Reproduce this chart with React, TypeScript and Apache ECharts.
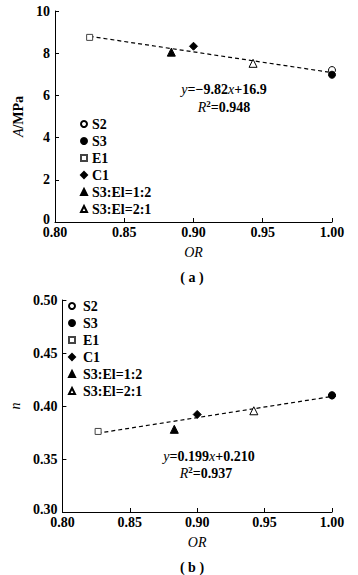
import React, { useEffect, useRef } from "react";
import * as echarts from "echarts";

const categories = ["S2", "S3", "E1", "C1", "S3:El=1:2", "S3:El=2:1"];
const orA = [1.0, 1.0, 0.825, 0.9, 0.884, 0.943];
const aValues = [7.2, 6.98, 8.75, 8.33, 8.05, 7.52];
const orB = [1.0, 1.0, 0.8265, 0.9, 0.883, 0.942];
const nValues = [0.41, 0.41, 0.376, 0.392, 0.378, 0.3955];
const fitA = [[0.825, 8.8], [1.0, 7.08]];
const fitB = [[0.826, 0.3743], [1.0, 0.409]];

const symbols = ["circle", "circle", "rect", "diamond", "triangle", "triangle"];
const sizes = [7, 7, 6, 8, 8, 8];
const fills = ["#fff", "#000", "#fff", "#000", "#000", "#fff"];
const borders = ["#000", "#000", "#444", "#000", "#000", "#000"];

const ff = '"Liberation Serif", "Times New Roman", serif';
const FS = 14;

function xAxis(gi: number) {
  return {
    type: "value",
    gridIndex: gi,
    min: 0.8,
    max: 1.0,
    interval: 0.05,
    name: "OR",
    nameLocation: "middle",
    nameGap: 23,
    nameTextStyle: { fontFamily: ff, fontStyle: "italic", fontSize: FS, color: "#000" },
    axisLine: { lineStyle: { color: "#000", width: 1 } },
    axisTick: { inside: true, length: 4, lineStyle: { color: "#000" } },
    axisLabel: {
      fontFamily: ff,
      fontWeight: "bold",
      fontSize: FS,
      lineHeight: 12,
      color: "#000",
      margin: 4,
      formatter: (v: number) => v.toFixed(2),
    },
    splitLine: { show: false },
  };
}

function series(gi: number, xs: number[], ys: number[], fit: number[][]) {
  const out: any[] = [
    {
      type: "line",
      name: "fit" + gi,
      xAxisIndex: gi,
      yAxisIndex: gi,
      data: fit,
      symbol: "none",
      lineStyle: { color: "#000", width: 1.2, type: [4, 3] },
      z: 1,
    },
  ];
  categories.forEach((name, i) => {
    out.push({
      type: "scatter",
      name,
      xAxisIndex: gi,
      yAxisIndex: gi,
      data: [[xs[i], ys[i]]],
      symbol: symbols[i],
      symbolSize: sizes[i],
      itemStyle: { color: fills[i], borderColor: borders[i], borderWidth: 1, opacity: 1 },
      z: 2 + i,
    });
  });
  return out;
}

function legend(left: number, top: number, pad: number) {
  return {
    orient: "vertical",
    left,
    top,
    data: categories,
    selectedMode: false,
    itemWidth: 6,
    itemHeight: 6,
    itemGap: 3,
    padding: 0,
    textStyle: {
      fontFamily: ff,
      fontWeight: "bold",
      fontSize: FS,
      color: "#000",
      lineHeight: 14,
      padding: [0, 0, 0, pad],
    },
  };
}

const rich = {
  i: { fontFamily: ff, fontStyle: "italic", fontSize: FS, fill: "#000" },
  b: { fontFamily: ff, fontWeight: "bold", fontSize: FS, fill: "#000" },
  sup: { fontFamily: ff, fontWeight: "bold", fontSize: 9, fill: "#000", verticalAlign: "top", padding: [0, 0, 6, 0] },
};

function txt(x: number, y: number, text: string) {
  return {
    type: "text",
    x,
    y,
    style: { text, rich, align: "center", verticalAlign: "middle" },
  };
}

const yLabelBase = { fontFamily: ff, fontWeight: "bold", fontSize: FS, color: "#000" };

export default function App() {
  const ref = useRef<HTMLDivElement>(null);
  useEffect(() => {
    if (!ref.current) return;
    const chart = echarts.init(ref.current, undefined, { renderer: "svg" });
    chart.setOption({
      animation: false,
      backgroundColor: "#fff",
      grid: [
        { left: 55, top: 11, width: 277, height: 211 },
        { left: 55, top: 300, width: 277, height: 212 },
      ],
      xAxis: [xAxis(0), xAxis(1)],
      yAxis: [
        {
          type: "value",
          gridIndex: 0,
          min: 0,
          max: 10,
          interval: 2,
          name: "{i|A}{b|/MPa}",
          nameLocation: "middle",
          nameGap: 28,
          nameTextStyle: {
            rich: {
              i: { fontFamily: ff, fontStyle: "italic", fontSize: FS, color: "#000" },
              b: { fontFamily: ff, fontWeight: "bold", fontSize: FS, color: "#000" },
            },
          },
          axisLine: { show: true, lineStyle: { color: "#000" } },
          axisTick: { show: true, inside: true, length: 4, lineStyle: { color: "#000" } },
          axisLabel: {
            ...yLabelBase,
            margin: 5,
            formatter: (v: number) => (v === 0 ? "{z|0}" : String(v)),
            rich: { z: { ...yLabelBase, lineHeight: 12, padding: [0, 0, 6, 0] } },
          },
          splitLine: { show: false },
        },
        {
          type: "value",
          gridIndex: 1,
          min: 0.3,
          max: 0.5,
          interval: 0.05,
          name: "n",
          nameLocation: "middle",
          nameGap: 28,
          nameTextStyle: { fontFamily: ff, fontStyle: "italic", fontSize: FS, color: "#000" },
          axisLine: { show: true, lineStyle: { color: "#000" } },
          axisTick: { show: true, inside: true, length: 4, lineStyle: { color: "#000" } },
          axisLabel: {
            ...yLabelBase,
            margin: 5,
            formatter: (v: number) => (Math.abs(v - 0.3) < 1e-9 ? "{z|0.30}" : v.toFixed(2)),
            rich: { z: { ...yLabelBase, lineHeight: 12, padding: [0, 0, 6, 0] } },
          },
          splitLine: { show: false },
        },
      ],
      legend: [legend(80, 117, 0), legend(68, 299, 3)],
      series: [...series(0, orA, aValues, fitA), ...series(1, orB, nValues, fitB)],
      graphic: [
        txt(224, 89, "{i|y}{b|=−9.82}{i|x}{b|+16.9}"),
        txt(224, 107, "{i|R}{sup|2}{b|=0.948}"),
        txt(209, 456, "{i|y}{b|=0.199}{i|x}{b|+0.210}"),
        txt(206, 473, "{i|R}{sup|2}{b|=0.937}"),
        {
          type: "text",
          x: 192,
          y: 277,
          style: { text: "( a )", font: `bold ${FS}px ${ff}`, fill: "#000", align: "center", verticalAlign: "middle" },
        },
        {
          type: "text",
          x: 192,
          y: 567,
          style: { text: "( b )", font: `bold ${FS}px ${ff}`, fill: "#000", align: "center", verticalAlign: "middle" },
        },
      ],
    });
    return () => chart.dispose();
  }, []);
  return (
    <div
      ref={ref}
      style={{ position: "fixed", left: 0, top: 0, width: 358, height: 575, background: "#fff" }}
    />
  );
}
